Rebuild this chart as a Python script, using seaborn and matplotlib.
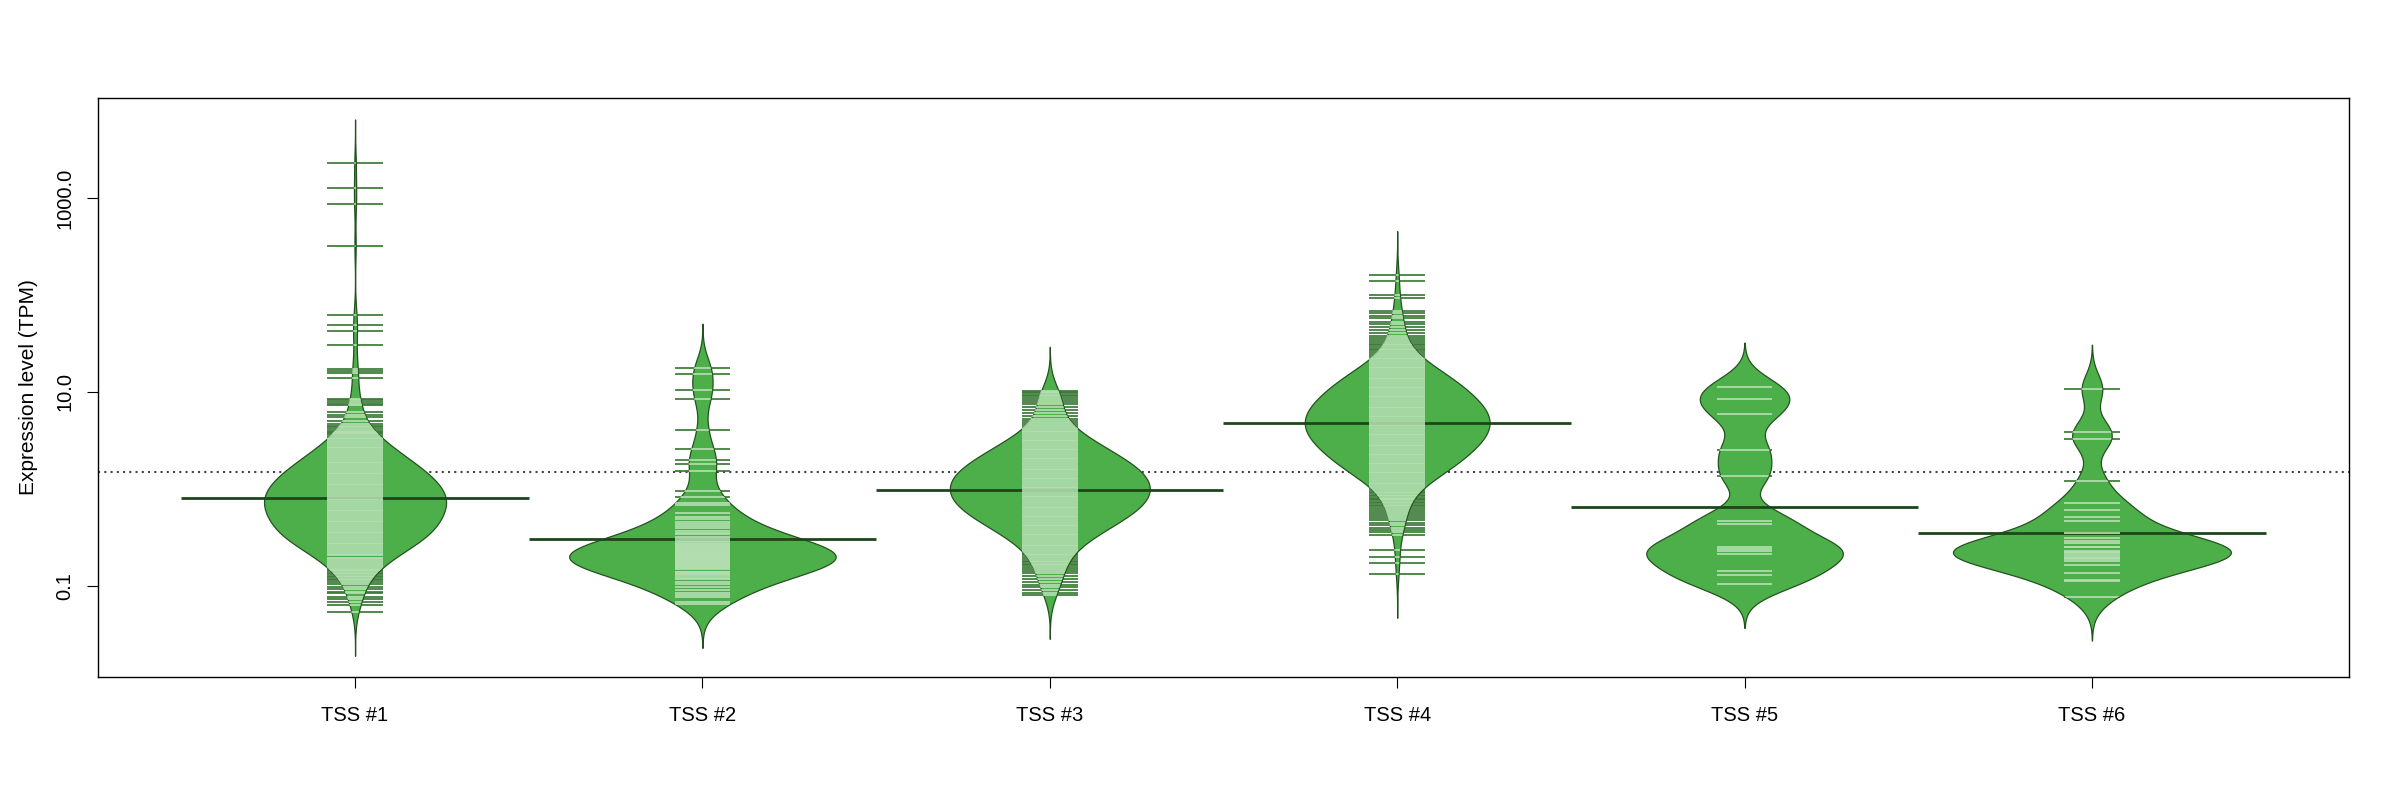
import numpy as np
import pandas as pd
import matplotlib
matplotlib.use("Agg")
import matplotlib.pyplot as plt
import seaborn as sns
from matplotlib.collections import PolyCollection
from matplotlib.ticker import NullLocator

# ---------------- data (log10 TPM) ----------------
groups = ["TSS #1", "TSS #2", "TSS #3", "TSS #4", "TSS #5", "TSS #6"]

tss1_single_log10 = [3.356, 3.103, 2.941, 2.507, 1.797, 1.687, 1.624, 1.486, 1.237, 1.217, 1.19, 1.146,
                     0.93, 0.915, 0.9, 0.88, 0.86, 0.79, 0.76, 0.74, 0.7, 0.67, 0.65, 0.635, 0.62, 0.6,
                     0.59, 0.575, 0.562,
                     -0.84, -0.852, -0.865, -0.88, -0.895, -0.91, -0.925, -0.94, -0.96, -0.985, -1.01,
                     -1.035, -1.06, -1.071, -1.11, -1.138, -1.162, -1.197, -1.269]
tss1_band_log10 = [0.548, 0.529, 0.512, 0.492, 0.473, 0.455, 0.435, 0.417, 0.396, 0.379, 0.357, 0.34,
                   0.319, 0.302, 0.281, 0.264, 0.243, 0.226, 0.205, 0.188, 0.167, 0.15, 0.128, 0.111,
                   0.09, 0.073, 0.052, 0.035, 0.014, -0.003, -0.024, -0.041, -0.062, -0.079, -0.1,
                   -0.117, -0.138, -0.155, -0.176, -0.193, -0.214, -0.231, -0.252, -0.269, -0.29,
                   -0.307, -0.328, -0.345, -0.366, -0.383, -0.404, -0.421, -0.442, -0.459, -0.48,
                   -0.497, -0.518, -0.535, -0.556, -0.573, -0.594, -0.611, -0.632, -0.649, -0.67,
                   -0.687, -0.708, -0.725, -0.746, -0.763, -0.784, -0.801, -0.822]
tss1_band_n = [2, 2, 2, 2, 3, 3, 3, 3, 3, 4, 4, 4, 4, 5, 5, 5, 5, 6, 6, 6, 6, 6,
               7, 7, 7, 7, 7, 7, 7, 8, 8, 8, 8, 8, 8, 8, 8, 8, 8, 8, 8, 8,
               7, 7, 7, 7, 7, 7, 7, 7, 7, 7, 7, 7, 7, 6, 6, 6, 6, 6, 5, 4, 4, 4,
               3, 3, 3, 3, 3, 3, 2, 2, 2]

tss2_log10 = [1.25, 1.188, 1.016, 0.93, 0.607, 0.411, 0.298, 0.26, 0.188, -0.018, -0.08, -0.15, -0.165,
              -0.252, -0.286, -0.31, -0.338, -0.36, -0.385, -0.406, -0.43, -0.458, -0.47,
              -0.499, -0.515, -0.534, -0.55, -0.565, -0.57, -0.578, -0.59, -0.6, -0.61,
              -0.62, -0.62, -0.63, -0.64, -0.65, -0.66, -0.66, -0.668, -0.675, -0.685,
              -0.695, -0.7, -0.705, -0.715, -0.72, -0.725, -0.735, -0.74, -0.75, -0.76,
              -0.767, -0.78, -0.785, -0.79, -0.802, -0.81, -0.82, -0.83, -0.853, -0.86,
              -0.875, -0.88, -0.898, -0.922, -0.93, -0.957, -0.985, -1.014, -1.042, -1.07,
              -1.094, -1.118, -1.163, -1.187]

tss3_single_log10 = [1.012, 1.0, 0.985, 0.97, 0.955, 0.94, 0.92, 0.895, 0.87, 0.84, 0.81, 0.78, 0.75,
                     0.72, 0.70, -0.72, -0.74, -0.755, -0.77, -0.79, -0.81, -0.83, -0.85, -0.87,
                     -0.9, -0.93, -0.96, -0.99, -1.01, -1.04, -1.07, -1.094]
tss3_band_log10 = [0.676, 0.657, 0.639, 0.62, 0.601, 0.583, 0.564, 0.545, 0.527, 0.508, 0.489, 0.471,
                   0.452, 0.433, 0.415, 0.396, 0.377, 0.359, 0.34, 0.321, 0.303, 0.284, 0.265, 0.247,
                   0.228, 0.209, 0.191, 0.172, 0.153, 0.135, 0.116, 0.097, 0.079, 0.06, 0.041, 0.023,
                   0.004, -0.015, -0.033, -0.052, -0.071, -0.089, -0.108, -0.127, -0.145, -0.164,
                   -0.183, -0.201, -0.22, -0.239, -0.257, -0.276, -0.295, -0.313, -0.332, -0.351,
                   -0.369, -0.388, -0.407, -0.425, -0.444, -0.463, -0.481, -0.5, -0.519, -0.537,
                   -0.556, -0.575, -0.593, -0.612, -0.631, -0.649, -0.668, -0.687, -0.70]
tss3_band_n = [1, 1, 1, 1, 1, 2, 2, 2, 2, 2, 3, 3, 3, 3, 3, 4, 4, 4, 4, 4, 4, 5, 5, 5, 5, 5,
               6, 6, 6, 6, 6, 6, 6, 6, 6, 6, 6, 6, 6, 6, 6, 6, 6, 6, 6, 6, 6,
               5, 5, 5, 5, 5, 5, 4, 4, 4, 4, 4, 3, 3, 3, 3, 3, 2, 2, 2, 2, 2, 2,
               1, 1, 1, 1, 1, 1]

tss4_single_log10 = [2.205, 2.146, 1.999, 1.965, 1.837, 1.81, 1.782, 1.758, 1.724, 1.70, 1.672, 1.638,
                     1.604, 1.575, 1.553, 1.53, 1.51, 1.497,
                     -0.06, -0.075, -0.09, -0.105, -0.12, -0.135, -0.15, -0.165, -0.18, -0.2, -0.22,
                     -0.24, -0.26, -0.28, -0.3, -0.325, -0.35, -0.375, -0.4, -0.425, -0.45, -0.475,
                     -0.63, -0.699, -0.767, -0.877]
tss4_band_log10 = [1.484, 1.465, 1.447, 1.428, 1.409, 1.391, 1.372, 1.353, 1.335, 1.316, 1.297, 1.279,
                   1.26, 1.241, 1.223, 1.204, 1.185, 1.167, 1.148, 1.129, 1.111, 1.092, 1.073, 1.055,
                   1.036, 1.017, 0.999, 0.98, 0.961, 0.943, 0.924, 0.905, 0.887, 0.868, 0.849, 0.831,
                   0.812, 0.793, 0.775, 0.756, 0.737, 0.719, 0.70, 0.681, 0.663, 0.644, 0.625, 0.607,
                   0.588, 0.569, 0.551, 0.532, 0.513, 0.495, 0.476, 0.457, 0.439, 0.42, 0.401, 0.383,
                   0.364, 0.345, 0.327, 0.308, 0.289, 0.271, 0.252, 0.233, 0.215, 0.196, 0.177, 0.159,
                   0.14, 0.121, 0.103, 0.084, 0.065, 0.047, 0.028, 0.009, -0.009, -0.028, -0.045]
tss4_band_n = [1, 1, 1, 1, 1, 1, 2, 2, 2, 2, 3, 3, 3, 3, 5, 5, 5, 5, 5, 6, 6, 6, 6, 6, 6,
               7, 7, 7, 7, 7, 8, 8, 8, 8, 8,
               9, 9, 9, 9, 9, 9, 9, 9, 9, 9, 9, 9, 9, 9, 9, 9, 9,
               8, 8, 8, 8, 8, 7, 7, 7, 7, 7, 6, 6, 6, 6, 6, 6, 5, 5, 5, 5, 5,
               3, 3, 3, 3, 2, 2, 2, 2, 1, 1]

tss5_log10 = [1.054, 0.927, 0.769, 0.401, 0.136, -0.328, -0.362, -0.596, -0.623, -0.637, -0.671,
              -0.843, -0.887, -0.98]

tss6_log10 = [1.033, 0.59, 0.511, 0.081, -0.142, -0.214, -0.286, -0.331, -0.458, -0.509, -0.534,
              -0.56, -0.596, -0.60, -0.637, -0.654, -0.66, -0.68, -0.699, -0.71, -0.72, -0.74,
              -0.785, -0.864, -0.939, -0.95, -1.111]

y_ticks = [0.1, 10.0, 1000.0]
y_ticklabels = ["0.1", "10.0", "1000.0"]
y_label = "Expression level (TPM)"


def expand(single, band=(), band_n=()):
    return np.concatenate([np.asarray(single, float),
                           np.repeat(np.asarray(band, float), np.asarray(band_n, int))])


log_data = [
    expand(tss1_single_log10, tss1_band_log10, tss1_band_n),
    expand(tss2_log10),
    expand(tss3_single_log10, tss3_band_log10, tss3_band_n),
    expand(tss4_single_log10, tss4_band_log10, tss4_band_n),
    expand(tss5_log10),
    expand(tss6_log10),
]
df = pd.DataFrame({
    "group": np.concatenate([[g] * len(v) for g, v in zip(groups, log_data)]),
    "tpm": 10 ** np.concatenate(log_data),
})

# ---------------- style ----------------
bean_fill = "#4DAF4A"
bean_edge = "#24521F"
inner_line = "#B3DEB0"
outer_line = "#3A7A37"
bean_line = "#1C461C"
overall_col = "#444444"

plt.rcParams["font.family"] = ["Liberation Sans", "DejaVu Sans"]

fig = plt.figure(figsize=(24, 8), dpi=100)
ax = fig.add_axes([98 / 2400, 123 / 800, (2349 - 98) / 2400, (677 - 98) / 800])

BW = 0.151  # common bandwidth in log10 units


def common_bw(kde):
    return BW / np.std(kde.dataset, ddof=1)


n_before = len(ax.collections)
sns.violinplot(data=df, x="group", y="tpm", order=groups, log_scale=True, cut=3,
               bw_method=common_bw, density_norm="area", inner=None, width=0.8,
               color=bean_fill, saturation=1, linecolor=bean_edge, linewidth=0.9,
               gridsize=400, ax=ax)
violins = [c for c in ax.collections[n_before:] if isinstance(c, PolyCollection)]
for v in violins:
    v.set_zorder(1)

half = 0.08
for i, vals in enumerate(log_data):
    uniq = np.unique(10 ** vals)
    ax.hlines(uniq, i - half, i + half, colors=outer_line, lw=1.25, zorder=0.8)
    # mean (bean) line
    ax.hlines(10 ** vals.mean(), i - 0.5, i + 0.5, colors=bean_line, lw=2.0, zorder=1.2)
    lc = ax.hlines(uniq, i - half, i + half, colors=inner_line, lw=1.25, zorder=1.5)
    p = violins[i]
    lc.set_clip_path(p.get_paths()[0], p.get_transform())

overall = np.concatenate(log_data).mean()
ax.axhline(10 ** overall, color=overall_col, lw=1.5, ls=(0, (1, 2.0)), zorder=0.5)

ax.set_xlim(-0.74, 5.74)
ax.set_ylim(10 ** -1.94, 10 ** 4.03)
ax.set_yticks(y_ticks)
ax.set_yticklabels(y_ticklabels)
ax.yaxis.set_minor_locator(NullLocator())
ax.set_xlabel("")
ax.set_ylabel(y_label, fontsize=15)
ax.yaxis.set_label_coords(-0.0265, 0.5)
ax.tick_params(axis="both", direction="out", length=8, width=0.8, labelsize=14.5, color="black")
ax.tick_params(axis="y", labelrotation=90, pad=9)
ax.tick_params(axis="x", pad=13)
for lab in ax.get_yticklabels():
    lab.set_va("center")
for s in ax.spines.values():
    s.set_visible(True)
    s.set_color("black")
    s.set_linewidth(1.0)
ax.set_facecolor("white")
fig.patch.set_facecolor("white")

fig.savefig("out.png", dpi=100)
